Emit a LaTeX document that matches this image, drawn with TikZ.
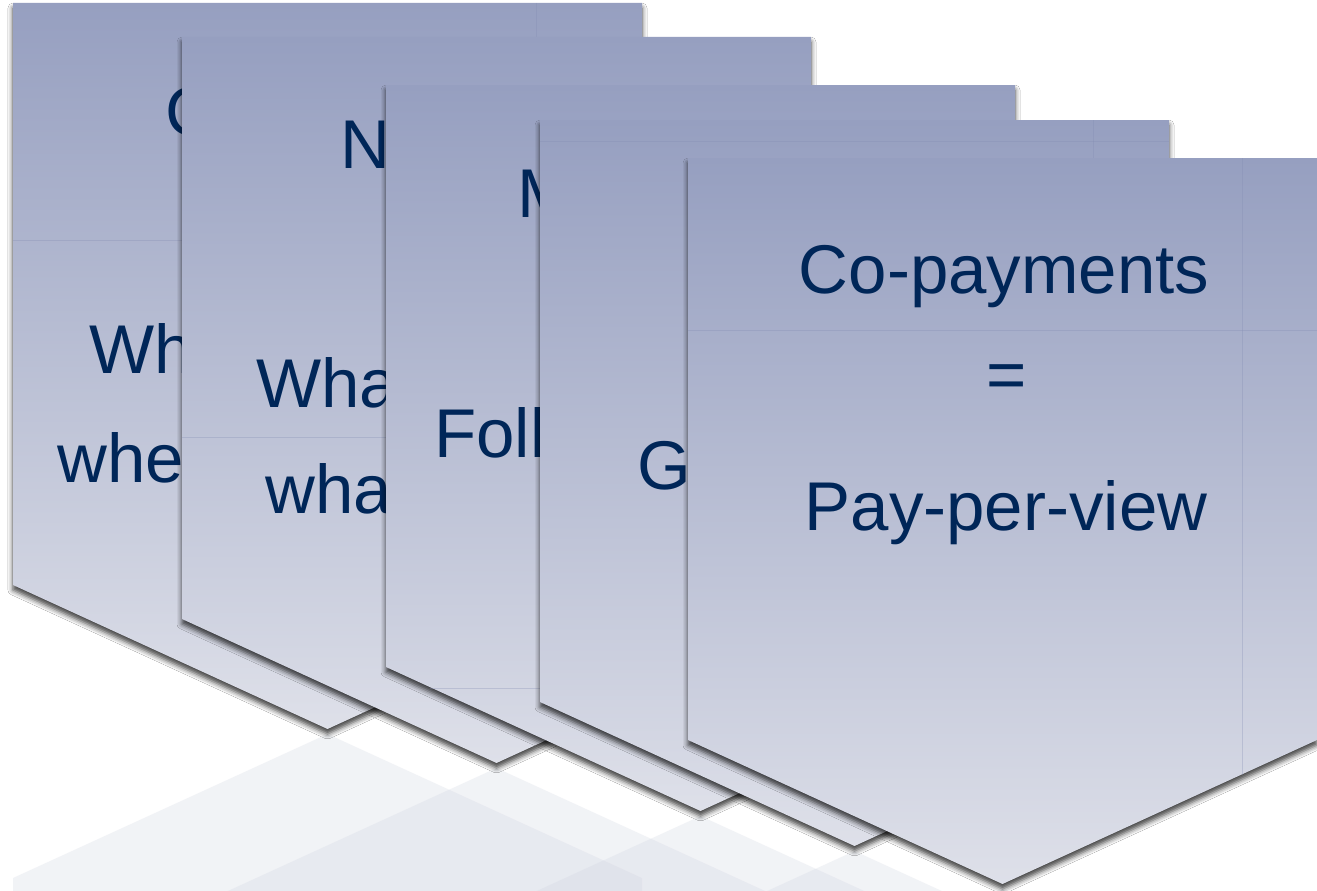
\documentclass[tikz,border=0pt]{standalone}
\usepackage{fontspec}
\setmainfont{Liberation Sans}
\usetikzlibrary{shadows.blur}
\definecolor{cardtop}{RGB}{150,159,192}
\definecolor{cardbot}{RGB}{222,224,233}
\definecolor{navy}{RGB}{0,38,88}
\definecolor{refl}{RGB}{208,212,225}
\definecolor{gridln}{RGB}{130,140,178}
\tikzset{
  card/.style={top color=cardtop, bottom color=cardbot, draw=none,
    blur shadow={shadow xshift=0pt, shadow yshift=-5pt, shadow blur radius=5pt, shadow opacity=75}},
  reflect/.style={fill=refl, fill opacity=0.28, draw=none},
  cell/.style={draw=gridln, draw opacity=0.3, line width=0.8pt},
  lbl/.style={text=navy, inner sep=0pt, font=\fontsize{69}{80}\selectfont},
}
\begin{document}
\begin{tikzpicture}[x=1pt,y=-1pt]
\useasboundingbox (0,0) rectangle (1317,891);
\clip (0,0) rectangle (1317,891);
\fill[white] (0,0) rectangle (1317,891);

% reflections
\path[reflect] (327.5,734) -- (642,878) -- (642,900) -- (13,900) -- (13,878) -- cycle;
\path[reflect] (496.5,768) -- (811,912) -- (811,960) -- (182,960) -- (182,912) -- cycle;
\path[reflect] (700.5,816) -- (1015,960) -- (1015,990) -- (386,990) -- (386,960) -- cycle;
\path[reflect] (854.5,851) -- (1169,995) -- (1169,1000) -- (540,1000) -- (540,995) -- cycle;
\path[reflect] (1002.5,889) -- (1317,1033) -- (1317,1040) -- (688,1040) -- (688,1033) -- cycle;

% card 1
\path[card] (13,3) -- (642,3) -- (642,585) -- (327.5,729) -- (13,585) -- cycle;
\draw[cell] (13,240) -- (642,240);
\draw[cell] (536,3) -- (536,240);
\node[lbl, anchor=base west] (c1a) at (165,135) {C};
\node[lbl, anchor=base west] (c1b) at (89,373) {Wh};
\node[lbl, anchor=base west] (c1c) at (57,482) {whe};

% card 2
\path[card] (182,37) -- (811,37) -- (811,619) -- (496.5,763) -- (182,619) -- cycle;
\draw[cell] (182,437) -- (811,437);
\node[lbl, anchor=base west] (c2a) at (340,168) {N};
\node[lbl, anchor=base west] (c2b) at (256,407) {Wha};
\node[lbl, anchor=base west] (c2c) at (265,513) {wha};

% card 3
\path[card] (386,85) -- (1015,85) -- (1015,667) -- (700.5,811) -- (386,667) -- cycle;
\draw[cell] (430,688) -- (971,688);
\node[lbl, anchor=base west] (c3a) at (517,217) {M};
\node[lbl, anchor=base west] (c3b) at (434,457) {Foll};

% card 4
\path[card] (540,120) -- (1169,120) -- (1169,702) -- (854.5,846) -- (540,702) -- cycle;
\draw[cell] (540,141) -- (1169,141);
\draw[cell] (1093,120) -- (1093,702);
\node[lbl, anchor=base west] (c4a) at (637,489) {G};

% card 5
\path[card] (688,158) -- (1317,158) -- (1317,740) -- (1002.5,884) -- (688,740) -- cycle;
\draw[cell] (688,330) -- (1317,330);
\draw[cell] (1242,158) -- (1242,775);
\node[lbl, anchor=base] (c5a) at (1004,293) {Co-payments};
\node[lbl, anchor=base] (c5b) at (1007,398) {=};
\node[lbl, anchor=base] (c5c) at (1006,530) {Pay-per-view};
\end{tikzpicture}
\end{document}
